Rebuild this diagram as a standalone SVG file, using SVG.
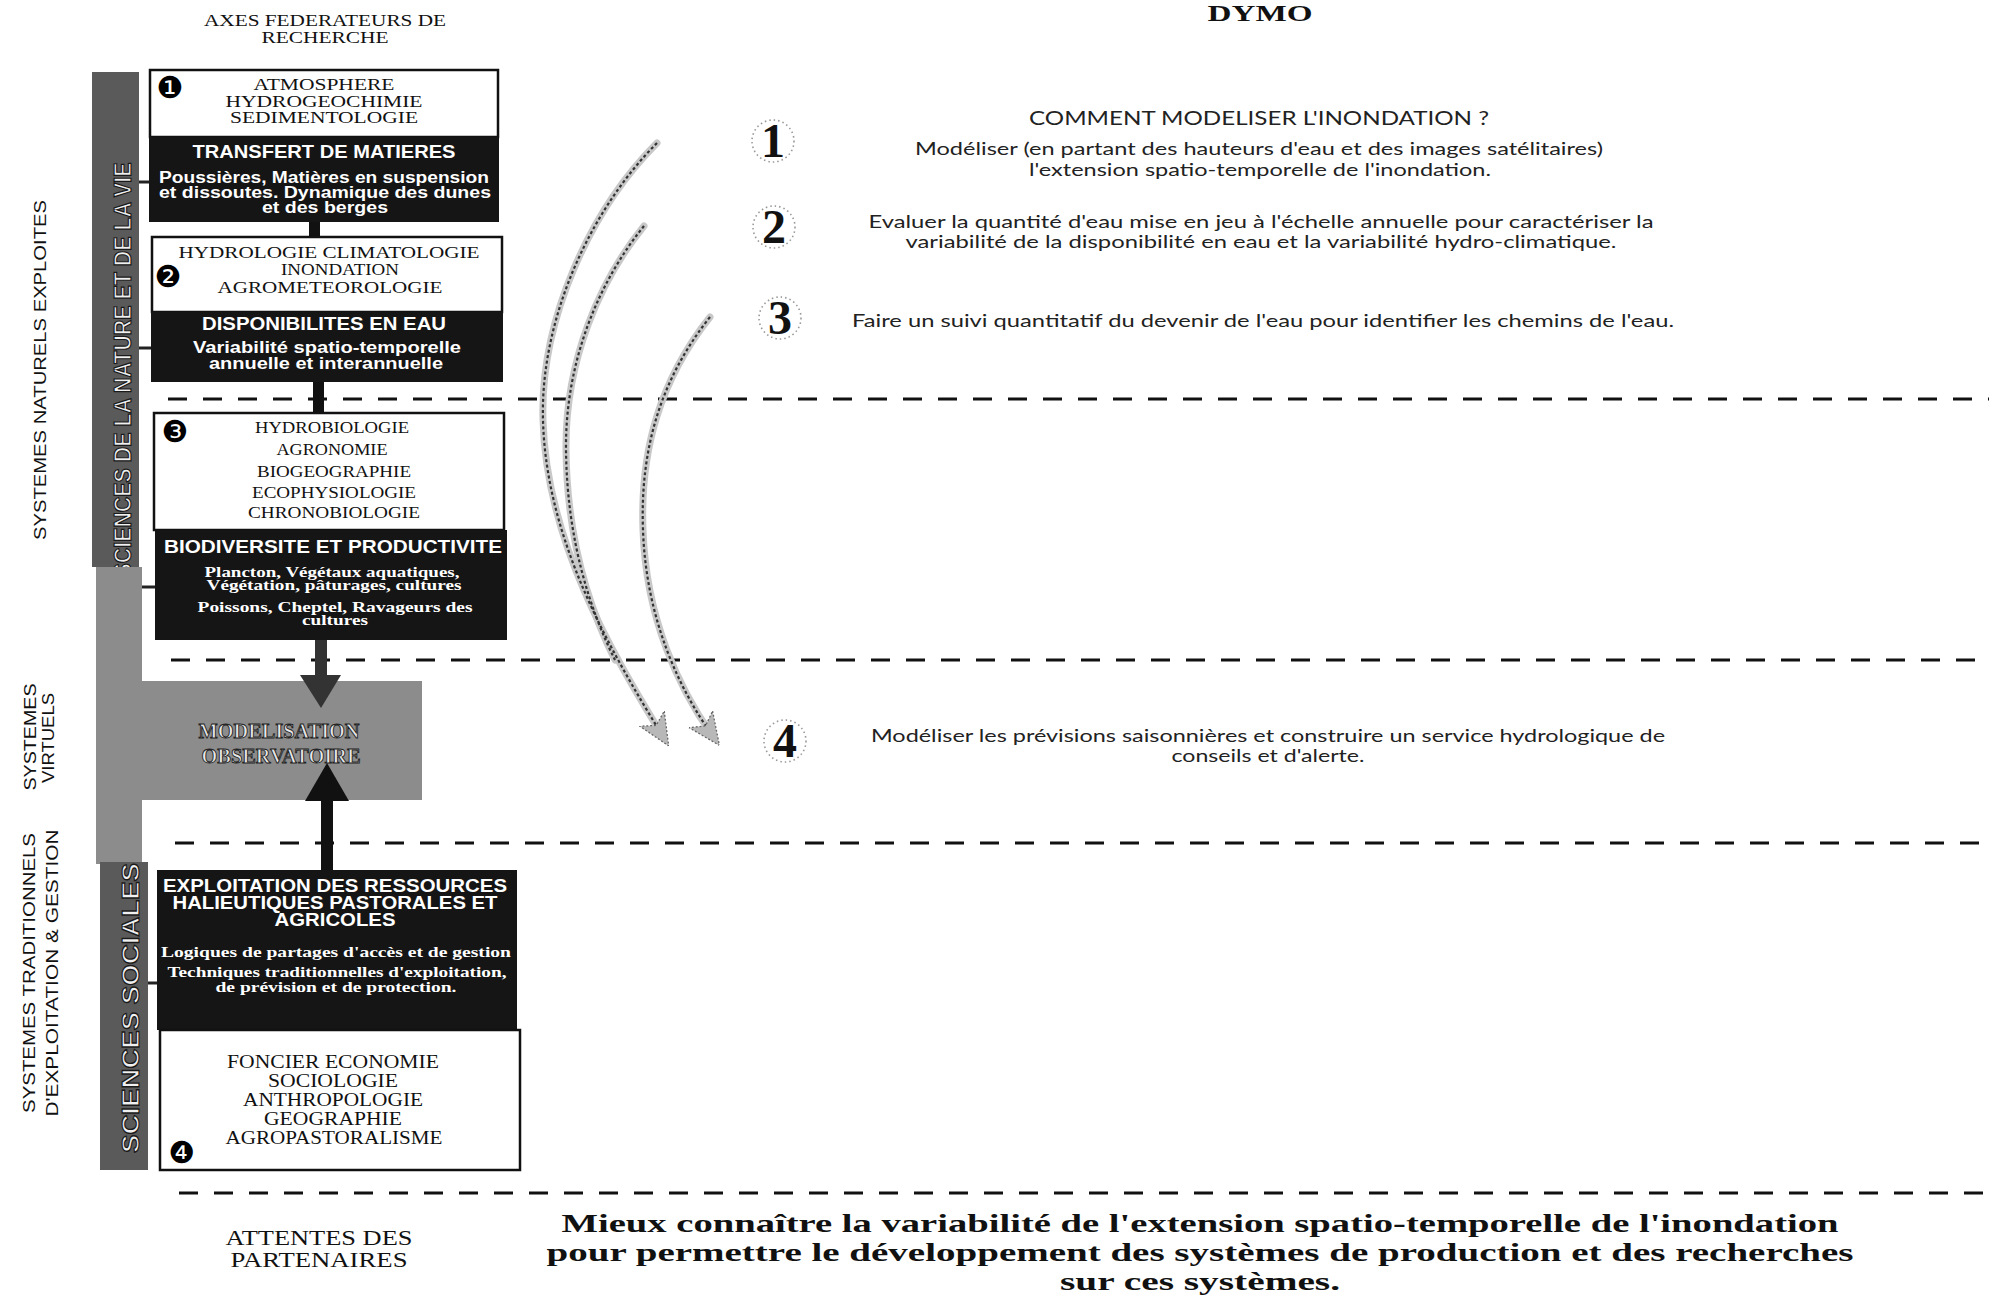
<svg xmlns="http://www.w3.org/2000/svg" width="1989" height="1297" viewBox="0 0 1989 1297">
<style>
text{text-anchor:middle}
.sf{font-family:"Liberation Serif","Times New Roman",serif;fill:#111}
.sfb{font-family:"Liberation Serif","Times New Roman",serif;font-weight:bold;fill:#111}
.ss{font-family:"Liberation Sans",Arial,sans-serif;fill:#111}
.hw{font-family:"Liberation Sans",Arial,sans-serif;font-weight:bold;fill:#fff}
.bw{font-family:"Liberation Serif","Times New Roman",serif;font-weight:bold;fill:#fff}
.lt{font-family:Lato,"Liberation Sans",sans-serif;fill:#222}
.num{font-family:"DejaVu Sans",sans-serif;fill:#000;font-size:30px}
.bignum{font-family:"Liberation Serif","Times New Roman",serif;font-weight:bold;fill:#111;font-size:48px}
.halo{fill:none;stroke:#999;stroke-width:1.6;stroke-dasharray:1.5 3}
.wbox{fill:#fff;stroke:#111;stroke-width:2.5}
.bbox{fill:#151515}
.dash{stroke:#111;stroke-width:3;stroke-dasharray:19 16;fill:none}
.bar{fill:#5a5a5a}
.virt{fill:#8c8c8c}
.bartext{font-family:"Liberation Sans",Arial,sans-serif;font-weight:bold;fill:#f0f0f0;stroke:#1a1a1a;stroke-width:1.2}
.modtext{font-family:"Liberation Serif","Times New Roman",serif;font-weight:bold;fill:#e8e8e8;stroke:#222;stroke-width:0.9}
.band{fill:none;stroke:#c8c8c8;stroke-width:7;stroke-linecap:round}
.dots{fill:none;stroke:#333;stroke-width:2.2;stroke-dasharray:3 2.5}
.stub{stroke:#222;stroke-width:3;fill:none}
</style>
<defs>
<marker id="ah" viewBox="0 0 10 10" refX="6" refY="5" markerWidth="32" markerHeight="32" orient="auto" markerUnits="userSpaceOnUse">
<path d="M0,0.5 L10,5 L0,9.5 L2.5,5 Z" fill="#b8b8b8" stroke="#666" stroke-width="0.4" stroke-dasharray="0.6 0.6"/>
</marker>
</defs>

<rect width="1989" height="1297" fill="#fff"/>

<!-- headers -->
<g id="header-axes">
<text class="sf" x="325" y="26" font-size="17" textLength="242" lengthAdjust="spacingAndGlyphs">AXES FEDERATEURS DE</text>
<text class="sf" x="325" y="43" font-size="17" textLength="127" lengthAdjust="spacingAndGlyphs">RECHERCHE</text>
</g>
<g id="header-dymo">
<text class="sfb" x="1260" y="21" font-size="24" textLength="105" lengthAdjust="spacingAndGlyphs">DYMO</text>
</g>

<!-- dashed separators -->
<g id="separators">
<line class="dash" x1="168" y1="399" x2="1989" y2="399"/>
<line class="dash" x1="171" y1="660" x2="1989" y2="660"/>
<line class="dash" x1="175" y1="843" x2="1989" y2="843"/>
<line class="dash" x1="179" y1="1193" x2="1989" y2="1193"/>
</g>

<!-- row labels -->
<g id="label-naturels">
<text class="ss" transform="translate(46,370) rotate(-90)" font-size="17" textLength="340" lengthAdjust="spacingAndGlyphs">SYSTEMES NATURELS EXPLOITES</text>
</g>
<g id="label-virtuels">
<text class="ss" transform="translate(36,737) rotate(-90)" font-size="17" textLength="107" lengthAdjust="spacingAndGlyphs">SYSTEMES</text>
<text class="ss" transform="translate(54,738) rotate(-90)" font-size="17" textLength="90" lengthAdjust="spacingAndGlyphs">VIRTUELS</text>
</g>
<g id="label-traditionnels">
<text class="ss" transform="translate(35,973) rotate(-90)" font-size="17" textLength="280" lengthAdjust="spacingAndGlyphs">SYSTEMES TRADITIONNELS</text>
<text class="ss" transform="translate(58,973) rotate(-90)" font-size="17" textLength="287" lengthAdjust="spacingAndGlyphs">D'EXPLOITATION &amp; GESTION</text>
</g>

<!-- left science bar -->
<g id="bar-nature">
<rect class="bar" x="92" y="72" width="47" height="495"/>
<text class="bartext" transform="translate(131,370) rotate(-90)" font-size="23" textLength="415" lengthAdjust="spacingAndGlyphs">SCIENCES DE LA NATURE ET DE LA VIE</text>
</g>
<g id="modelisation">
<rect class="virt" x="96" y="567" width="46" height="297"/>
<rect class="virt" x="96" y="681" width="326" height="119"/>
<text class="modtext" x="279" y="738" font-size="20" textLength="161" lengthAdjust="spacingAndGlyphs">MODELISATION</text>
<text class="modtext" x="281" y="763" font-size="20" textLength="159" lengthAdjust="spacingAndGlyphs">OBSERVATOIRE</text>
</g>
<g id="bar-sociales">
<rect class="bar" x="100" y="862" width="48" height="308"/>
<text class="bartext" transform="translate(139,1008) rotate(-90)" font-size="23" textLength="290" lengthAdjust="spacingAndGlyphs">SCIENCES SOCIALES</text>
</g>

<!-- connectors -->
<g id="connectors">
<rect x="309" y="222" width="11" height="16" fill="#111"/>
<rect x="313" y="382" width="11" height="32" fill="#111"/>
<rect x="315" y="640" width="12" height="36" fill="#333"/>
<path d="M300,675 L341,675 L321,708 Z" fill="#333"/>
<rect x="321" y="798" width="12" height="73" fill="#111"/>
<path d="M305,801 L349,801 L327,763 Z" fill="#111"/>
<path class="stub" d="M139,182 L150,182"/>
<path class="stub" d="M139,348 L152,348"/>
<path class="stub" d="M142,587 L156,587"/>
<path class="stub" d="M148,983 L157,983"/>
<path class="band" d="M657,143 C590,210 540,320 543,420 C546,540 610,650 662,735"/>
<path class="band" d="M644,226 C600,280 565,360 566,450 C567,540 590,610 615,660"/>
<path class="band" d="M710,317 C660,380 640,450 643,530 C646,620 680,690 712,735"/>
<path class="dots" d="M657,143 C590,210 540,320 543,420 C546,540 610,650 662,735" marker-end="url(#ah)"/>
<path class="dots" d="M644,226 C600,280 565,360 566,450 C567,540 590,610 615,660"/>
<path class="dots" d="M710,317 C660,380 640,450 643,530 C646,620 680,690 712,735" marker-end="url(#ah)"/>
</g>

<!-- box 1 -->
<g id="box1">
<rect class="wbox" x="150" y="70" width="348" height="67"/>
<rect class="bbox" x="149" y="137" width="350" height="85"/>
<text class="num" x="170" y="98">❶</text>
<text class="sf" x="324" y="90" font-size="16" textLength="141" lengthAdjust="spacingAndGlyphs">ATMOSPHERE</text>
<text class="sf" x="324" y="107" font-size="16" textLength="197" lengthAdjust="spacingAndGlyphs">HYDROGEOCHIMIE</text>
<text class="sf" x="324" y="123" font-size="16" textLength="188" lengthAdjust="spacingAndGlyphs">SEDIMENTOLOGIE</text>
<text class="hw" x="324" y="158" font-size="19" textLength="263" lengthAdjust="spacingAndGlyphs">TRANSFERT DE MATIERES</text>
<text class="hw" x="324" y="183" font-size="16" textLength="330" lengthAdjust="spacingAndGlyphs">Poussières, Matières en suspension</text>
<text class="hw" x="325" y="198" font-size="16" textLength="332" lengthAdjust="spacingAndGlyphs">et dissoutes. Dynamique des dunes</text>
<text class="hw" x="325" y="213" font-size="16" textLength="126" lengthAdjust="spacingAndGlyphs">et des berges</text>
</g>

<!-- box 2 -->
<g id="box2">
<rect class="wbox" x="152" y="237" width="350" height="75"/>
<rect class="bbox" x="151" y="312" width="352" height="70"/>
<text class="num" x="168" y="287">❷</text>
<text class="sf" x="329" y="258" font-size="17" textLength="301" lengthAdjust="spacingAndGlyphs">HYDROLOGIE CLIMATOLOGIE</text>
<text class="sf" x="340" y="275" font-size="17" textLength="118" lengthAdjust="spacingAndGlyphs">INONDATION</text>
<text class="sf" x="330" y="293" font-size="17" textLength="225" lengthAdjust="spacingAndGlyphs">AGROMETEOROLOGIE</text>
<text class="hw" x="324" y="330" font-size="19" textLength="244" lengthAdjust="spacingAndGlyphs">DISPONIBILITES EN EAU</text>
<text class="hw" x="327" y="353" font-size="16" textLength="268" lengthAdjust="spacingAndGlyphs">Variabilité spatio-temporelle</text>
<text class="hw" x="326" y="369" font-size="16" textLength="234" lengthAdjust="spacingAndGlyphs">annuelle et interannuelle</text>
</g>

<!-- box 3 -->
<g id="box3">
<rect class="wbox" x="154" y="413" width="350" height="117"/>
<rect class="bbox" x="155" y="530" width="352" height="110"/>
<text class="num" x="175" y="442">❸</text>
<text class="sf" x="332" y="433" font-size="16" textLength="154" lengthAdjust="spacingAndGlyphs">HYDROBIOLOGIE</text>
<text class="sf" x="332" y="455" font-size="16" textLength="111" lengthAdjust="spacingAndGlyphs">AGRONOMIE</text>
<text class="sf" x="334" y="477" font-size="16" textLength="154" lengthAdjust="spacingAndGlyphs">BIOGEOGRAPHIE</text>
<text class="sf" x="334" y="498" font-size="16" textLength="164" lengthAdjust="spacingAndGlyphs">ECOPHYSIOLOGIE</text>
<text class="sf" x="334" y="518" font-size="16" textLength="172" lengthAdjust="spacingAndGlyphs">CHRONOBIOLOGIE</text>
<text class="hw" x="333" y="553" font-size="19" textLength="338" lengthAdjust="spacingAndGlyphs">BIODIVERSITE ET PRODUCTIVITE</text>
<text class="bw" x="332" y="577" font-size="15" textLength="255" lengthAdjust="spacingAndGlyphs">Plancton, Végétaux aquatiques,</text>
<text class="bw" x="334" y="590" font-size="15" textLength="255" lengthAdjust="spacingAndGlyphs">Végétation, pâturages, cultures</text>
<text class="bw" x="335" y="612" font-size="15" textLength="275" lengthAdjust="spacingAndGlyphs">Poissons, Cheptel, Ravageurs des</text>
<text class="bw" x="335" y="625" font-size="15" textLength="66" lengthAdjust="spacingAndGlyphs">cultures</text>
</g>

<!-- box 4 -->
<g id="box4">
<rect class="bbox" x="157" y="870" width="360" height="160"/>
<rect class="wbox" x="160" y="1030" width="360" height="140"/>
<text class="hw" x="335" y="892" font-size="18" textLength="344" lengthAdjust="spacingAndGlyphs">EXPLOITATION DES RESSOURCES</text>
<text class="hw" x="335" y="909" font-size="18" textLength="325" lengthAdjust="spacingAndGlyphs">HALIEUTIQUES PASTORALES ET</text>
<text class="hw" x="335" y="926" font-size="18" textLength="121" lengthAdjust="spacingAndGlyphs">AGRICOLES</text>
<text class="bw" x="336" y="957" font-size="14" textLength="350" lengthAdjust="spacingAndGlyphs">Logiques de partages d'accès et de gestion</text>
<text class="bw" x="337" y="977" font-size="14" textLength="339" lengthAdjust="spacingAndGlyphs">Techniques traditionnelles d'exploitation,</text>
<text class="bw" x="336" y="992" font-size="14" textLength="241" lengthAdjust="spacingAndGlyphs">de prévision et de protection.</text>
<text class="sf" x="333" y="1068" font-size="19" textLength="212" lengthAdjust="spacingAndGlyphs">FONCIER ECONOMIE</text>
<text class="sf" x="333" y="1087" font-size="19" textLength="130" lengthAdjust="spacingAndGlyphs">SOCIOLOGIE</text>
<text class="sf" x="333" y="1106" font-size="19" textLength="180" lengthAdjust="spacingAndGlyphs">ANTHROPOLOGIE</text>
<text class="sf" x="333" y="1125" font-size="19" textLength="138" lengthAdjust="spacingAndGlyphs">GEOGRAPHIE</text>
<text class="sf" x="334" y="1144" font-size="19" textLength="217" lengthAdjust="spacingAndGlyphs">AGROPASTORALISME</text>
<text class="num" x="182" y="1163">❹</text>
</g>

<!-- right side items -->
<g id="item1">
<circle class="halo" cx="773" cy="141" r="21"/>
<text class="bignum" x="773" y="157">1</text>
<text class="lt" x="1259" y="125" font-size="20" textLength="460" lengthAdjust="spacingAndGlyphs">COMMENT MODELISER L'INONDATION ?</text>
<text class="lt" x="1259" y="155" font-size="18" textLength="688" lengthAdjust="spacingAndGlyphs">Modéliser (en partant des hauteurs d'eau et des images satélitaires)</text>
<text class="lt" x="1260" y="176" font-size="18" textLength="462" lengthAdjust="spacingAndGlyphs">l'extension spatio-temporelle de l'inondation.</text>
</g>
<g id="item2">
<circle class="halo" cx="774" cy="227" r="21"/>
<text class="bignum" x="774" y="243">2</text>
<text class="lt" x="1261" y="228" font-size="18" textLength="785" lengthAdjust="spacingAndGlyphs">Evaluer la quantité d'eau mise en jeu à l'échelle annuelle pour caractériser la</text>
<text class="lt" x="1261" y="248" font-size="18" textLength="711" lengthAdjust="spacingAndGlyphs">variabilité de la disponibilité en eau et la variabilité hydro-climatique.</text>
</g>
<g id="item3">
<circle class="halo" cx="780" cy="318" r="21"/>
<text class="bignum" x="780" y="334">3</text>
<text class="lt" x="1263" y="327" font-size="18" textLength="822" lengthAdjust="spacingAndGlyphs">Faire un suivi quantitatif du devenir de l'eau pour identifier les chemins de l'eau.</text>
</g>
<g id="item4">
<circle class="halo" cx="785" cy="741" r="21"/>
<text class="bignum" x="785" y="757">4</text>
<text class="lt" x="1268" y="742" font-size="18" textLength="794" lengthAdjust="spacingAndGlyphs">Modéliser les prévisions saisonnières et construire un service hydrologique de</text>
<text class="lt" x="1268" y="762" font-size="18" textLength="193" lengthAdjust="spacingAndGlyphs">conseils et d'alerte.</text>
</g>

<!-- bottom -->
<g id="attentes">
<text class="sf" x="319" y="1245" font-size="21" textLength="187" lengthAdjust="spacingAndGlyphs">ATTENTES DES</text>
<text class="sf" x="319" y="1267" font-size="21" textLength="177" lengthAdjust="spacingAndGlyphs">PARTENAIRES</text>
</g>
<g id="objectif">
<text class="sfb" x="1200" y="1232" font-size="26" textLength="1277" lengthAdjust="spacingAndGlyphs">Mieux connaître la variabilité de l'extension spatio-temporelle de l'inondation</text>
<text class="sfb" x="1200" y="1261" font-size="26" textLength="1307" lengthAdjust="spacingAndGlyphs">pour permettre le développement des systèmes de production et des recherches</text>
<text class="sfb" x="1200" y="1290" font-size="26" textLength="280" lengthAdjust="spacingAndGlyphs">sur ces systèmes.</text>
</g>
</svg>
